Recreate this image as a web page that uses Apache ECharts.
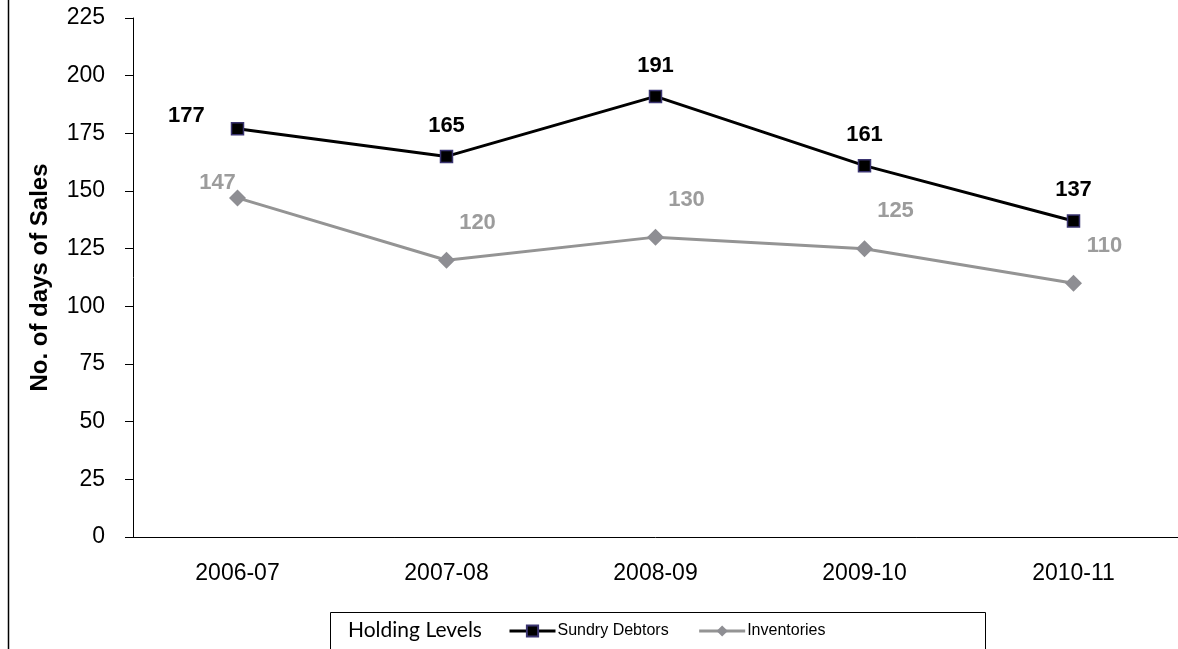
<!DOCTYPE html>
<html>
<head>
<meta charset="utf-8">
<script src="https://cdn.jsdelivr.net/npm/echarts@6/dist/echarts.min.js"></script>
<style>
  html, body { margin: 0; padding: 0; background: #fff; }
  #main { width: 1178px; height: 649px; }
</style>
</head>
<body>
<div id="main"></div>
<script>
// data
var years = ['2006-07', '2007-08', '2008-09', '2009-10', '2010-11'];
var sundryDebtors = [177, 165, 191, 161, 137];
var inventories = [147, 120, 130, 125, 110];
var yTicks = [0, 25, 50, 75, 100, 125, 150, 175, 200, 225];

var myChart = echarts.init(document.getElementById('main'));

var font = '"Liberation Sans", Arial, sans-serif';

// labels of the debtors line sit above the point, first one to the left
var debtorData = sundryDebtors.map(function (v, i) {
    return {
        value: v,
        label: i === 0 ? { position: 'left', offset: [-21, -13] } : { position: 'top', offset: [0, -8] }
    };
});
// inventory labels sit up and to the right, first one up-left
var invData = inventories.map(function (v, i) {
    return {
        value: v,
        label: i === 0 ? { position: 'top', offset: [-20, 10] } : { position: 'top', offset: [31, -13] }
    };
});

myChart.setOption({
    animation: false,
    grid: { left: 133, right: 0, top: 18, bottom: 112, containLabel: false },
    legend: {
        left: 503, top: 618,
        itemWidth: 46, itemHeight: 14, itemGap: 29,
        textStyle: { fontFamily: font, fontSize: 16, color: '#000', padding: [0, 0, 0, -3] },
        data: [
            { name: 'Sundry Debtors', lineStyle: { width: 3 } },
            { name: 'Inventories', lineStyle: { width: 3 } }
        ]
    },
    xAxis: [
        {
            type: 'category',
            data: years,
            boundaryGap: true,
            axisLine: { lineStyle: { color: '#000', width: 1 } },
            axisTick: { length: 7, lineStyle: { color: '#000' } },
            axisLabel: { color: '#000', fontFamily: font, fontSize: 23, margin: 25 }
        },
        {
            // extra ticks at the centre of each category
            type: 'category',
            data: years,
            position: 'bottom',
            boundaryGap: true,
            axisLine: { show: false },
            axisTick: { alignWithLabel: true, length: 7, lineStyle: { color: '#000' } },
            axisLabel: { show: false }
        }
    ],
    yAxis: {
        type: 'value',
        min: yTicks[0],
        max: yTicks[yTicks.length - 1],
        interval: 25,
        name: 'No. of days of Sales',
        nameLocation: 'middle',
        nameGap: 81,
        nameRotate: 90,
        nameTextStyle: { fontFamily: font, fontSize: 24, fontWeight: 'bold', color: '#000' },
        axisLine: { show: true, lineStyle: { color: '#000', width: 1 } },
        axisTick: { show: true, length: 8, lineStyle: { color: '#000' } },
        axisLabel: { color: '#000', fontFamily: font, fontSize: 23, margin: 28 },
        splitLine: { show: false }
    },
    series: [
        {
            name: 'Sundry Debtors',
            type: 'line',
            data: debtorData,
            symbol: 'rect',
            symbolSize: 12,
            itemStyle: { color: '#000', borderColor: '#3a3470', borderWidth: 1.5 },
            lineStyle: { color: '#000', width: 3 },
            label: {
                show: true,
                color: '#000',
                fontFamily: font,
                fontSize: 22,
                fontWeight: 'bold'
            }
        },
        {
            name: 'Inventories',
            type: 'line',
            data: invData,
            symbol: 'diamond',
            symbolSize: 17,
            itemStyle: { color: '#8e8e93' },
            lineStyle: { color: '#949494', width: 3 },
            label: {
                show: true,
                color: '#9c9c9c',
                fontFamily: font,
                fontSize: 22,
                fontWeight: 'bold'
            }
        }
    ],
    graphic: [
        // left border of the chart area
        { type: 'line', shape: { x1: 8.5, y1: 0, x2: 8.5, y2: 649 }, style: { stroke: '#000', lineWidth: 1.5 } },
        // legend box
        { type: 'rect', shape: { x: 330.5, y: 612.5, width: 655, height: 40 }, style: { fill: 'none', stroke: '#000', lineWidth: 1 } },
        {
            type: 'text', x: 348, y: 630,
            style: { text: 'Holding Levels', font: '21px Lato, "Open Sans", sans-serif', fill: '#000', verticalAlign: 'middle' }
        }
    ]
});
</script>
</body>
</html>
